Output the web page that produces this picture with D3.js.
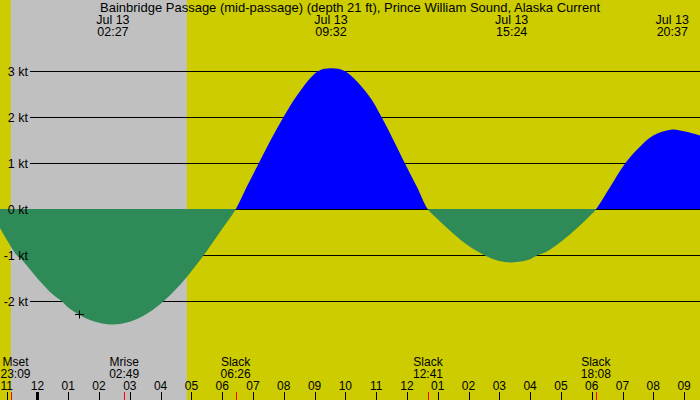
<!DOCTYPE html>
<meta charset="utf-8">
<head>
  <script src="https://d3js.org/d3.v7.min.js"></script>
  <style>
    body { margin: 0; }
    text { font-family: "Liberation Sans", Arial, sans-serif; font-size: 12px; fill: #000; }
  </style>
</head>
<div id="my_dataviz"></div>
<script>

// chart data
var title = "Bainbridge Passage (mid-passage) (depth 21 ft), Prince William Sound, Alaska Current";

var curveTimes = [
  "07-12 22:47", "07-12 23:00", "07-12 23:20", "07-12 23:30",
  "07-13 00:00", "07-13 00:30", "07-13 00:48", "07-13 01:00", "07-13 01:30",
  "07-13 02:00", "07-13 02:27", "07-13 03:00", "07-13 03:30", "07-13 04:00",
  "07-13 04:30", "07-13 05:00", "07-13 05:30", "07-13 06:00", "07-13 06:26",
  "07-13 06:48", "07-13 07:11", "07-13 07:34", "07-13 07:59", "07-13 08:27",
  "07-13 09:06", "07-13 09:32", "07-13 10:00", "07-13 10:44", "07-13 11:11",
  "07-13 11:34", "07-13 11:56", "07-13 12:19", "07-13 12:41",
  "07-13 13:00", "07-13 13:30", "07-13 14:00", "07-13 14:32", "07-13 15:00",
  "07-13 15:24", "07-13 16:00", "07-13 16:13", "07-13 16:30", "07-13 17:00",
  "07-13 17:30", "07-13 18:00", "07-13 18:08",
  "07-13 18:36", "07-13 19:05", "07-13 19:30", "07-13 20:00", "07-13 20:37",
  "07-13 21:00", "07-13 21:31"
];
var curveValues = [
  -0.40, -0.65, -1.00, -1.10,
  -1.50, -1.85, -2.00, -2.13, -2.34,
  -2.46, -2.50, -2.44, -2.29, -2.05,
  -1.73, -1.34, -0.90, -0.42, 0,
  0.50, 1.00, 1.50, 2.00, 2.50,
  3.00, 3.07, 3.00, 2.50, 2.00,
  1.50, 1.00, 0.50, 0,
  -0.21, -0.52, -0.79, -1.00, -1.12,
  -1.15, -1.08, -1.00, -0.93, -0.70,
  -0.42, -0.10, 0,
  0.49, 1.00, 1.32, 1.61, 1.74,
  1.70, 1.61
];

var peakTimes = ["07-13 02:27", "07-13 09:32", "07-13 15:24", "07-13 20:37"];
var eventNames = ["Mset", "Mrise", "Slack", "Slack", "Slack"];
var eventTimes = ["07-12 23:09", "07-13 02:49", "07-13 06:26", "07-13 12:41", "07-13 18:08"];
var nightTimes = ["07-12 23:08", "07-13 04:51"];
var speedTicks = [3, 2, 1, 0, -1, -2];
var markTime = "07-13 01:21", markValue = -2.27;

var W = 700, H = 400;
var parse = d3.timeParse("%m-%d %H:%M");

var svg = d3.select("#my_dataviz")
  .append("svg")
    .attr("width", W)
    .attr("height", H)
    .style("display", "block");

var x = d3.scaleTime()
  .domain([parse("07-12 22:47"), parse("07-13 21:31")])
  .range([0, W]);
var y = d3.scaleLinear()
  .domain([0, 3])
  .range([209.5, 71.5]);
var zeroY = y(0) - 0.5;

// clip above / below slack water
var defs = svg.append("defs");
defs.append("clipPath").attr("id", "above")
  .append("rect").attr("width", W).attr("height", zeroY);
defs.append("clipPath").attr("id", "below")
  .append("rect").attr("y", zeroY).attr("width", W).attr("height", H - zeroY);

// background: day and night
svg.append("rect").attr("width", W).attr("height", H).attr("fill", "#cccc00");
svg.append("rect")
  .attr("x", x(parse(nightTimes[0])))
  .attr("width", x(parse(nightTimes[1])) - x(parse(nightTimes[0])))
  .attr("height", H)
  .attr("fill", "#c0c0c0");

// grid lines
svg.selectAll(".grid")
  .data(speedTicks)
  .enter()
  .append("line")
    .attr("x1", 30).attr("x2", W)
    .attr("y1", function(d) { return y(d); })
    .attr("y2", function(d) { return y(d); })
    .attr("stroke", "#000")
    .attr("shape-rendering", "crispEdges");

var data = curveTimes.map(function(t, i) { return {t: parse(t), v: curveValues[i]}; });

var area = d3.area()
  .x(function(d) { return x(d.t); })
  .y0(zeroY)
  .y1(function(d) { return y(d.v); })
  .curve(d3.curveCatmullRom.alpha(0.5));

// flood (blue) and ebb (green)
svg.append("path").datum(data).attr("d", area).attr("fill", "#0000ff").attr("clip-path", "url(#above)");
svg.append("path").datum(data).attr("d", area).attr("fill", "#2e8b57").attr("clip-path", "url(#below)");

// the + mark
var mx = Math.round(x(parse(markTime))) + 0.5, my = Math.round(y(markValue)) + 0.5;
svg.append("path")
  .attr("d", "M" + (mx - 4.5) + "," + my + "H" + (mx + 4.5) + "M" + mx + "," + (my - 4) + "V" + (my + 4))
  .attr("stroke", "#000")
  .attr("fill", "none");

// speed labels
svg.selectAll(".ylab")
  .data(speedTicks)
  .enter()
  .append("text")
    .attr("x", 28)
    .attr("y", function(d) { return y(d) + 4.5; })
    .attr("text-anchor", "end")
    .style("font-size", "12.5px")
    .text(function(d) { return d + " kt"; });

// hour ticks along the bottom
var hours = x.ticks(d3.timeHour.every(1));
svg.selectAll(".htick")
  .data(hours)
  .enter()
  .append("line")
    .attr("x1", function(d) { return Math.round(x(d)) + 0.5; })
    .attr("x2", function(d) { return Math.round(x(d)) + 0.5; })
    .attr("y1", 392).attr("y2", H)
    .attr("stroke", "#000")
    .attr("stroke-width", function(d) { return d.getHours() == 0 ? 3 : 1; });
svg.selectAll(".hlab")
  .data(hours)
  .enter()
  .append("text")
    .attr("x", function(d) { return x(d); })
    .attr("y", 389.5)
    .attr("text-anchor", "middle")
    .text(d3.timeFormat("%I"));

// moon and slack events
var hm = d3.timeFormat("%H:%M");
eventTimes.forEach(function(t, i) {
  var ex = x(parse(t));
  svg.append("line")
    .attr("x1", Math.round(ex) + 0.5).attr("x2", Math.round(ex) + 0.5)
    .attr("y1", 392).attr("y2", H)
    .attr("stroke", "#ff0000");
  var cx = Math.max(ex, 15.5);
  svg.append("text").attr("x", cx).attr("y", 366).attr("text-anchor", "middle").text(eventNames[i]);
  svg.append("text").attr("x", cx).attr("y", 377.5).attr("text-anchor", "middle").text(hm(parse(t)));
});

// max current labels along the top
var md = d3.timeFormat("%b %d");
peakTimes.forEach(function(t) {
  var px = Math.min(x(parse(t)), W - 17);
  svg.append("text").attr("x", px).attr("y", 24).attr("text-anchor", "middle").style("font-size", "12.5px").text(md(parse(t)));
  svg.append("text").attr("x", px).attr("y", 36).attr("text-anchor", "middle").style("font-size", "12.5px").text(hm(parse(t)));
});

svg.append("text")
  .attr("x", W / 2)
  .attr("y", 12)
  .attr("text-anchor", "middle")
  .style("font-size", "13px")
  .text(title);

</script>
